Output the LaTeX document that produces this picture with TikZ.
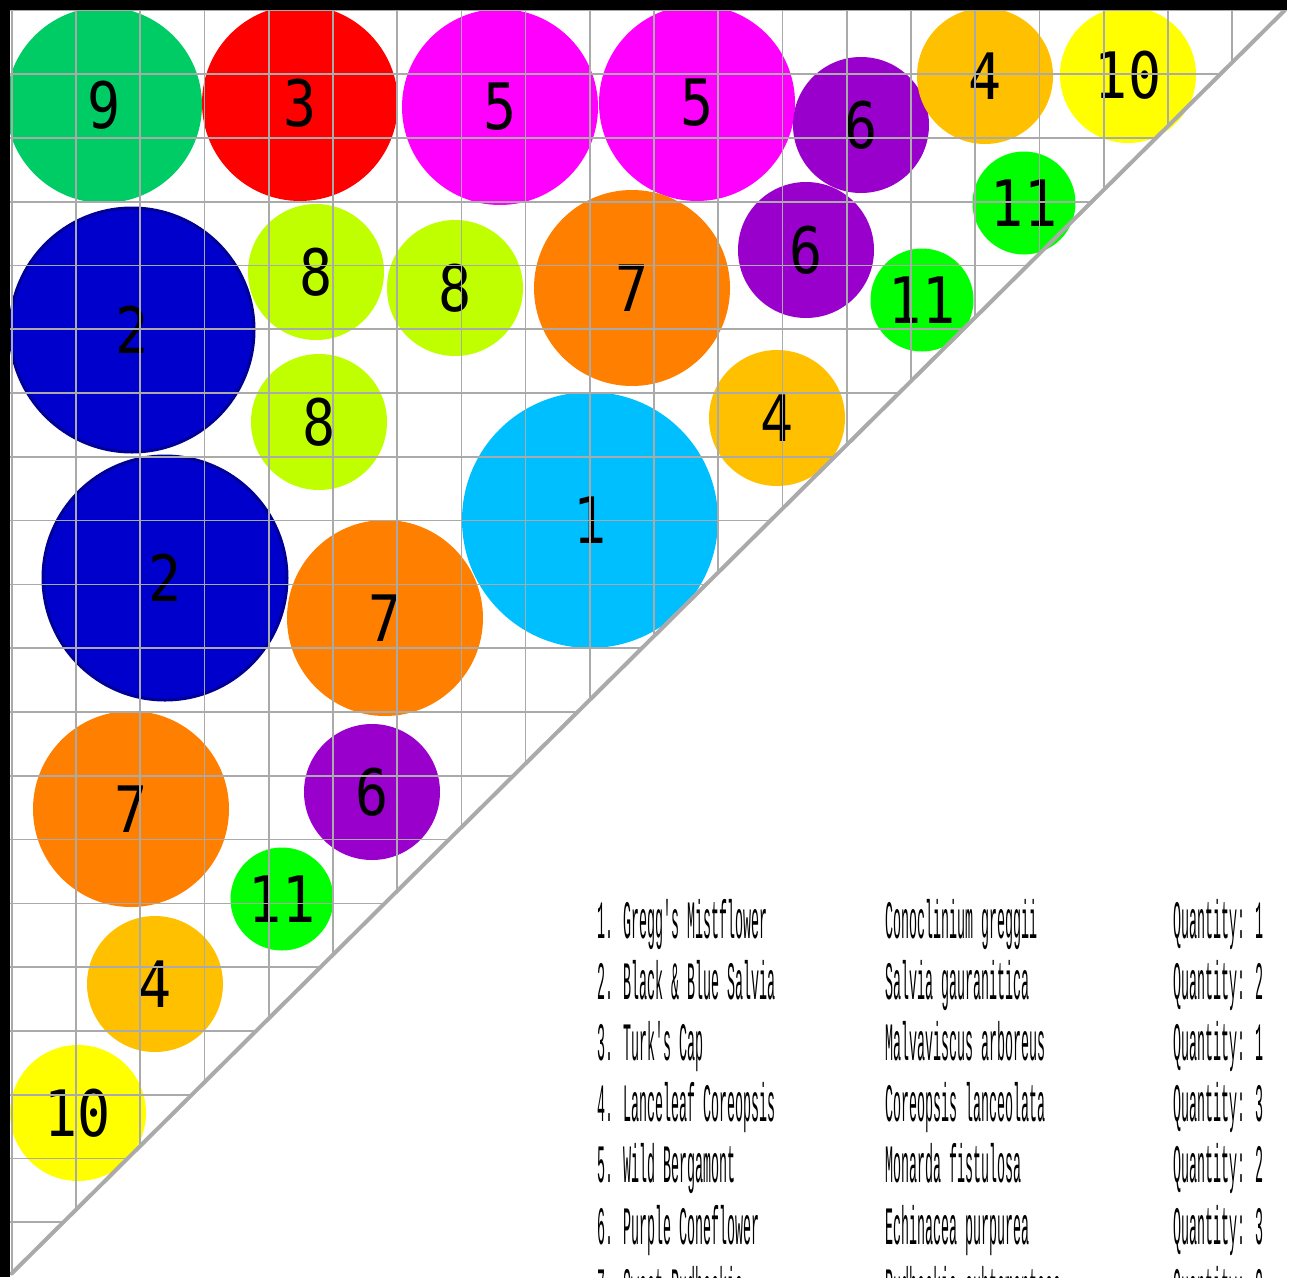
\documentclass[tikz,border=0pt]{standalone}
\usepackage{fontspec}
\usepackage{tikz}
\usetikzlibrary{positioning}
\newfontfamily\numfont[FakeStretch=0.86]{DejaVu Sans Mono}
\newfontfamily\legfont[FakeStretch=0.247]{Liberation Mono}
\definecolor{mistBlue}{RGB}{0,191,255}
\definecolor{salviaBlue}{RGB}{0,0,204}
\definecolor{salviaEdge}{RGB}{0,0,150}
\definecolor{turkRed}{RGB}{255,0,0}
\definecolor{coreopsisGold}{RGB}{255,192,0}
\definecolor{bergamotPink}{RGB}{255,0,255}
\definecolor{coneflowerPurple}{RGB}{153,0,204}
\definecolor{rudbeckiaOrange}{RGB}{255,128,0}
\definecolor{limeEight}{RGB}{191,255,0}
\definecolor{greenNine}{RGB}{0,204,102}
\definecolor{yellowTen}{RGB}{255,255,0}
\definecolor{greenEleven}{RGB}{0,255,0}
\definecolor{gridGray}{RGB}{170,170,170}
\tikzset{
  bed/plant/.style={circle, inner sep=0pt, text=black,
    font=\numfont\fontsize{64}{64}\selectfont},
  bed/xl/.style={bed/plant, minimum size=256pt},
  bed/lg/.style={bed/plant, minimum size=244pt, draw=salviaEdge, line width=3pt},
  bed/md/.style={bed/plant, minimum size=196pt},
  bed/sm/.style={bed/plant, minimum size=136pt},
  bed/xs/.style={bed/plant, minimum size=103pt},
  bed/grid/.style={draw=gridGray, line width=1.7pt},
  bed/edge/.style={draw=gridGray, line width=4pt, line cap=round},
  bed/key/.style={font=\legfont\fontsize{54}{54}\selectfont,
    anchor=base west, inner sep=0pt}
}

\begin{document}
\begin{tikzpicture}[x=1pt, y=-1pt]
  \useasboundingbox[fill=white] (0,0) rectangle (1293,1277);

  % plants, row by row from the top
  \node[bed/md, fill=greenNine]        (p9a)  at (104,105)  {9};
  \node[bed/md, fill=turkRed]          (p3a)  at (300,103)  {3};
  \node[bed/md, fill=bergamotPink]     (p5a)  at (500,107)  {5};
  \node[bed/md, fill=bergamotPink]     (p5b)  at (697,103)  {5};
  \node[bed/sm, fill=coneflowerPurple] (p6a)  at (861,125)  {6};
  \node[bed/sm, fill=coreopsisGold]    (p4a)  at (985,76)   {4};
  \node[bed/sm, fill=yellowTen]        (p10a) at (1128,75)  {10};
  \node[bed/xs, fill=greenEleven]      (p11a) at (1024,203) {11};
  \node[bed/lg, fill=salviaBlue]       (p2a)  at (132,330)  {2};
  \node[bed/sm, fill=limeEight]        (p8a)  at (316,272)  {8};
  \node[bed/sm, fill=limeEight]        (p8b)  at (455,288)  {8};
  \node[bed/md, fill=rudbeckiaOrange]  (p7a)  at (632,288)  {7};
  \node[bed/sm, fill=coneflowerPurple] (p6b)  at (806,250)  {6};
  \node[bed/xs, fill=greenEleven]      (p11b) at (922,300)  {11};
  \node[bed/sm, fill=limeEight]        (p8c)  at (319,422)  {8};
  \node[bed/sm, fill=coreopsisGold]    (p4b)  at (777,418)  {4};
  \node[bed/xl, fill=mistBlue]         (p1a)  at (590,520)  {1};
  \node[bed/lg, fill=salviaBlue]       (p2b)  at (165,578)  {2};
  \node[bed/md, fill=rudbeckiaOrange]  (p7b)  at (385,618)  {7};
  \node[bed/md, fill=rudbeckiaOrange]  (p7c)  at (131,809)  {7};
  \node[bed/sm, fill=coneflowerPurple] (p6c)  at (372,792)  {6};
  \node[bed/xs, fill=greenEleven]      (p11c) at (282,899)  {11};
  \node[bed/sm, fill=coreopsisGold]    (p4c)  at (155,984)  {4};
  \node[bed/sm, fill=yellowTen]        (p10b) at (78,1113)  {10};

  % one-foot grid, laid over the plants
  \coordinate (tr) at (1285,10);
  \coordinate (bl) at (11.7,1273.5);
  \begin{scope}
    \clip (10,9) -- (1286,9) -- (10,1275.1) -- cycle;
    \foreach \k in {0,...,19} {
      \draw[bed/grid] (11.7+64.24*\k,0) -- ++(0,1290);
      \draw[bed/grid] (0,10.3+63.79*\k) -- ++(1300,0);
    }
  \end{scope}
  \draw[bed/edge] (tr) -- (bl);

  % walls
  \fill (0,0) rectangle (1287,9.5);
  \fill (0,0) rectangle (10,1277);

  % plant key
  \foreach \i/\common/\latin/\qty in {
      1/Gregg's Mistflower/Conoclinium greggii/1,
      2/Black \& Blue Salvia/Salvia gauranitica/2,
      3/Turk's Cap/Malvaviscus arboreus/1,
      4/Lanceleaf Coreopsis/Coreopsis lanceolata/3,
      5/Wild Bergamont/Monarda fistulosa/2,
      6/Purple Coneflower/Echinacea purpurea/3,
      7/Sweet Rudbeckia/Rudbeckia subtomentosa/3} {
    \pgfmathsetmacro\rowy{938+61.2*(\i-1)}
    \node[bed/key] (name\i) at (597,\rowy)  {\i. \common};
    \node[bed/key] (sci\i)  at (885,\rowy)  {\latin};
    \node[bed/key] (qty\i)  at (1173,\rowy) {Quantity: \qty};
  }
\end{tikzpicture}
\end{document}
